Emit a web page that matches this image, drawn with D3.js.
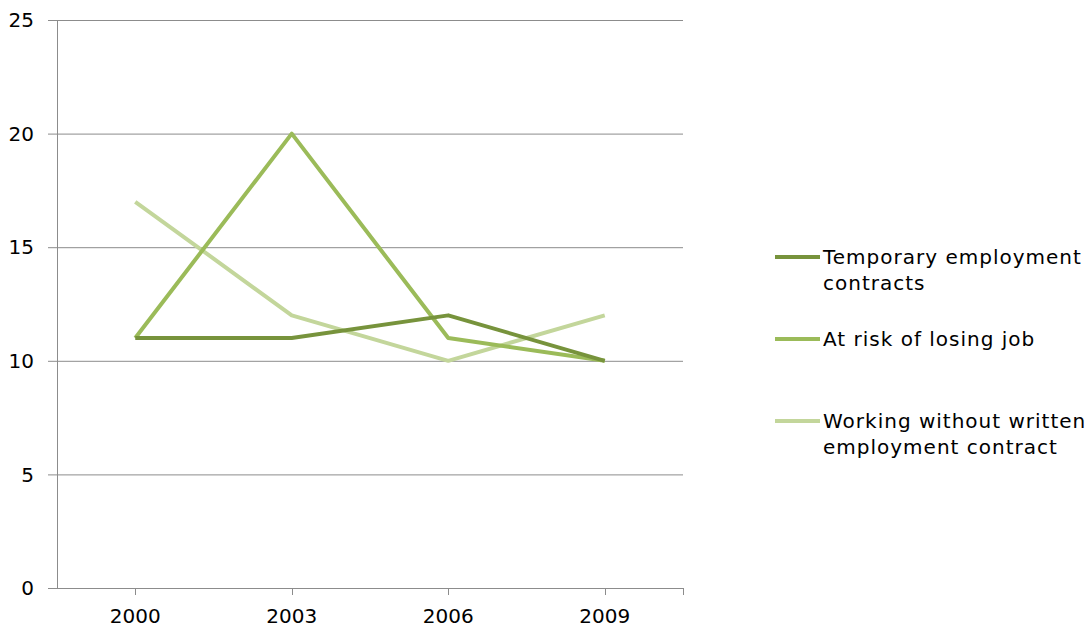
<!DOCTYPE html>
<html>
<head>
<meta charset="utf-8">
<script src="https://cdn.jsdelivr.net/npm/d3@7"></script>
<style>
  body { margin: 0; background: #fff; }
  text { font-family: "DejaVu Sans", Verdana, sans-serif; fill: #000; }
</style>
</head>
<body>
<div id="chart"></div>
<script>
// chart data
var years = ['2000', '2003', '2006', '2009']
var yTicks = [0, 5, 10, 15, 20, 25]
var seriesNames = [
  ['Temporary employment', 'contracts'],
  ['At risk of losing job'],
  ['Working without written', 'employment contract']
]
var seriesColors = ['#77933c', '#9bbb59', '#c3d69b']
var temporary = [11, 11, 12, 10]
var atRisk = [11, 20, 11, 10]
var noContract = [17, 12, 10, 12]
var seriesValues = [temporary, atRisk, noContract]

var width = 1087
var height = 627
var plot = { left: 57, right: 683, top: 20, bottom: 588 }

var svg = d3.select('#chart').append('svg')
  .attr('width', width)
  .attr('height', height)

var x = d3.scaleBand().domain(years).range([plot.left, plot.right])
var y = d3.scaleLinear().domain([0, 25]).range([plot.bottom, plot.top])

// gridlines
svg.append('g')
  .selectAll('line')
  .data(yTicks)
  .enter()
  .append('line')
  .attr('x1', plot.left - 9)
  .attr('x2', plot.right)
  .attr('y1', function (d) { return y(d) + 0.5 })
  .attr('y2', function (d) { return y(d) + 0.5 })
  .attr('stroke', '#8c8c8c')
  .attr('stroke-width', 1)

// y axis line
svg.append('line')
  .attr('x1', plot.left + 0.5)
  .attr('x2', plot.left + 0.5)
  .attr('y1', plot.top)
  .attr('y2', plot.bottom)
  .attr('stroke', '#8c8c8c')

// y labels
svg.append('g')
  .selectAll('text')
  .data(yTicks)
  .enter()
  .append('text')
  .attr('x', 34)
  .attr('y', function (d) { return y(d) })
  .attr('dy', '0.36em')
  .attr('text-anchor', 'end')
  .attr('font-size', 20)
  .text(function (d) { return d })

// x ticks at category centres plus right end
var xTickPos = years.map(function (d) { return x(d) + x.bandwidth() / 2 }).concat([plot.right])
svg.append('g')
  .selectAll('line')
  .data(xTickPos)
  .enter()
  .append('line')
  .attr('x1', function (d) { return Math.round(d) + 0.5 })
  .attr('x2', function (d) { return Math.round(d) + 0.5 })
  .attr('y1', plot.bottom)
  .attr('y2', plot.bottom + 7)
  .attr('stroke', '#8c8c8c')

// x labels
svg.append('g')
  .selectAll('text')
  .data(years)
  .enter()
  .append('text')
  .attr('x', function (d) { return x(d) + x.bandwidth() / 2 })
  .attr('y', 623)
  .attr('text-anchor', 'middle')
  .attr('font-size', 20)
  .text(function (d) { return d })

// series lines
var line = d3.line()
  .x(function (d, i) { return x(years[i]) + x.bandwidth() / 2 })
  .y(function (d) { return y(d) })

// draw light first so darker lines lie on top as in the reference
var drawOrder = [2, 1, 0]
drawOrder.forEach(function (s) {
  svg.append('path')
    .datum(seriesValues[s])
    .attr('d', line)
    .attr('fill', 'none')
    .attr('stroke', seriesColors[s])
    .attr('stroke-width', 4)
    .attr('stroke-linejoin', 'round')
})

// legend
var legendY = [257, 339, 421]
var legend = svg.append('g')
seriesNames.forEach(function (lines, s) {
  legend.append('line')
    .attr('x1', 775)
    .attr('x2', 820)
    .attr('y1', legendY[s])
    .attr('y2', legendY[s])
    .attr('stroke', seriesColors[s])
    .attr('stroke-width', 4)
  var t = legend.append('text')
    .attr('x', 823)
    .attr('y', legendY[s])
    .attr('font-size', 20)
    .attr('letter-spacing', 1)
  lines.forEach(function (l, j) {
    t.append('tspan')
      .attr('x', 823)
      .attr('y', legendY[s] + j * 26)
      .attr('dy', '0.36em')
      .text(l)
  })
})
</script>
</body>
</html>
